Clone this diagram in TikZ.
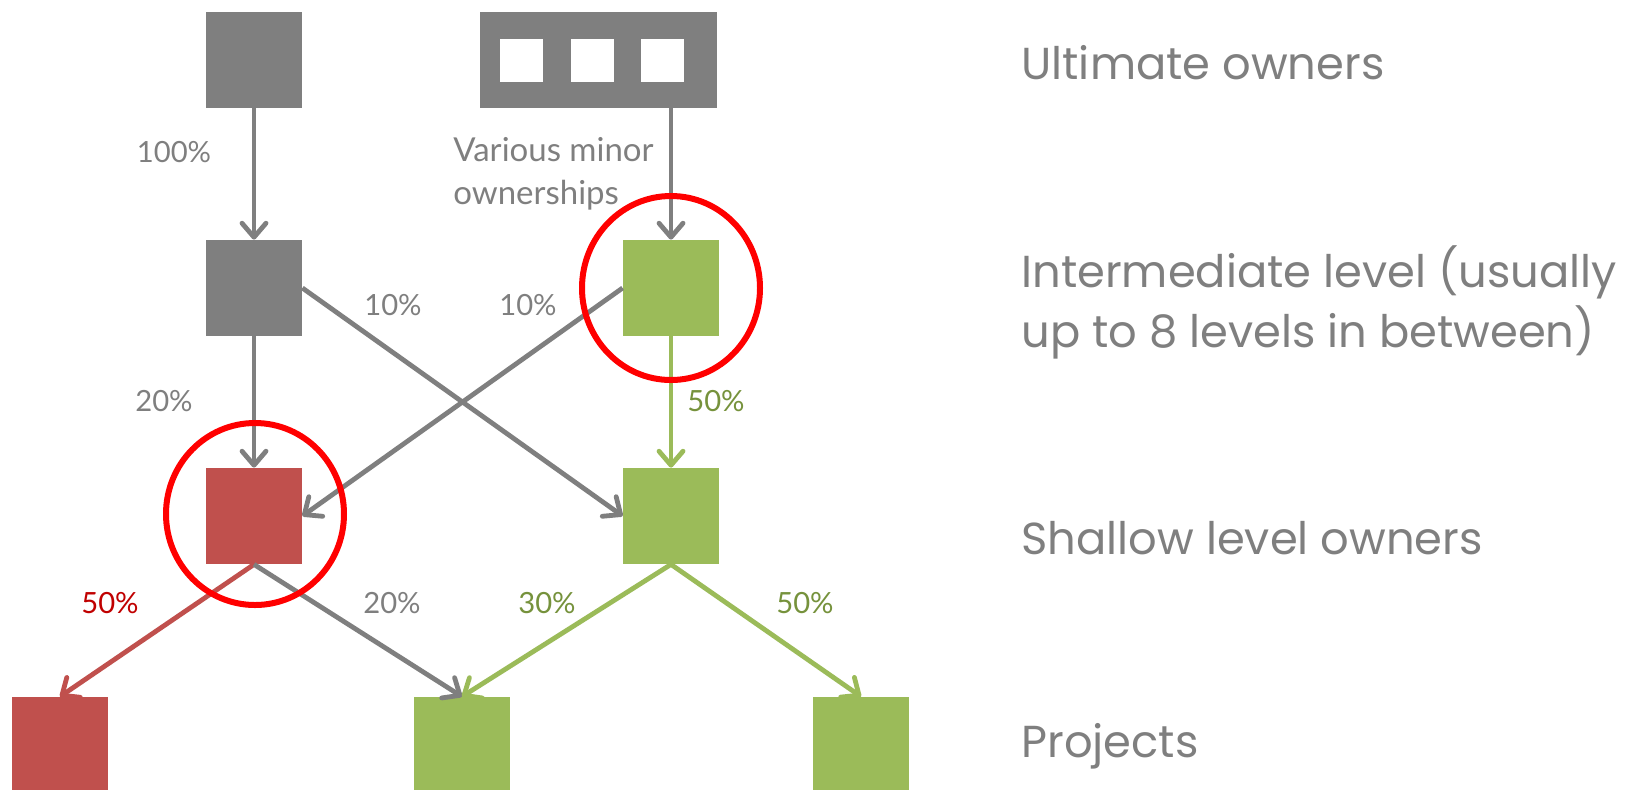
\documentclass[tikz,border=0pt]{standalone}
\usepackage{fontspec}
\setmainfont{Lato}
\newfontfamily\levelfont{Poppins}
\usetikzlibrary{arrows.meta,positioning}

\definecolor{boxgray}{HTML}{7F7F7F}
\definecolor{boxgreen}{HTML}{9BBB59}
\definecolor{boxred}{HTML}{C0504D}
\definecolor{labgreen}{HTML}{76923C}
\definecolor{labred}{HTML}{C00000}

\tikzset{
    owner/.style={fill=#1, minimum size=48pt, inner sep=0pt},
    link/.style={draw=#1, line width=2.4pt, -{Straight Barb[length=7pt,width=12pt,round]}},
    pct/.style={text=#1, inner sep=0pt, font=\fontsize{14.6}{17}\selectfont},
    level/.style={text=boxgray, anchor=west, align=left, inner sep=0pt, font=\levelfont\fontsize{22.4}{30}\selectfont},
    ring/.style={draw=red, line width=3pt}
}

\begin{document}
\begin{tikzpicture}[x=0.5pt, y=-0.5pt, node distance=114pt]
                \useasboundingbox (0,0) rectangle (1639,789);

                \node[owner=boxgray] (A) at (254,60) {};
                \node[owner=boxgray, minimum width=118.5pt] (B) at (598,60) {};
                \node[owner=white, minimum size=21.5pt] (B1) at (521,60) {};
                \node[owner=white, minimum size=21.5pt] (B2) at (592,60) {};
                \node[owner=white, minimum size=21.5pt] (B3) at (662,60) {};
                \node[owner=boxgray, below of=A] (C) {};
                \node[owner=boxgreen] (D) at (671,288) {};
                \node[owner=boxred, below of=C] (E) {};
                \node[owner=boxgreen, below of=D] (F) {};
                \node[owner=boxred] (G) at (60,745) {};
                \node[owner=boxgreen] (H) at (462,745) {};
                \node[owner=boxgreen] (I) at (861,745) {};

                \draw[link=boxgray] (A) -- (C);
                \draw[link=boxgray] (D.north |- B.south) -- (D);
                \draw[link=boxgray] (C) -- (E);
                \draw[link=boxgray] (C.east) -- (F.west);
                \draw[link=boxgray] (D.west) -- (E.east);
                \draw[link=boxgreen] (D) -- (F);
                \draw[link=boxred] (E.south) -- (G.north);
                \draw[link=boxgray] (E.south) -- (H.north);
                \draw[link=boxgreen] (F.south) -- (H.north);
                \draw[link=boxgreen] (F.south) -- (I.north);

                \draw[ring] (D) ellipse [x radius=44.5pt, y radius=46pt];
                \draw[ring] (255,514) ellipse [x radius=44.5pt, y radius=45.5pt];

                \node[pct=boxgray] (p1) at (174,152) {100\%};
                \node[pct=boxgray, anchor=west, align=left, font=\fontsize{16.5}{21.5}\selectfont] (various) at (453,174) {Various minor\\ownerships};
                \node[pct=boxgray] (p2) at (393,305) {10\%};
                \node[pct=boxgray] (p3) at (528,305) {10\%};
                \node[pct=boxgray] (p4) at (164,401) {20\%};
                \node[pct=labgreen] (p5) at (716,401) {50\%};
                \node[pct=labred] (p6) at (110,603) {50\%};
                \node[pct=boxgray] (p7) at (392,603) {20\%};
                \node[pct=labgreen] (p8) at (547,603) {30\%};
                \node[pct=labgreen] (p9) at (805,603) {50\%};

                \node[level] (L1) at (1021,63) {Ultimate owners};
                \node[level] (L2) at (1021,302) {Intermediate level (usually\\up to 8 levels in between)};
                \node[level] (L3) at (1021,538) {Shallow level owners};
                \node[level] (L4) at (1021,746) {Projects};
            \end{tikzpicture}
\end{document}
